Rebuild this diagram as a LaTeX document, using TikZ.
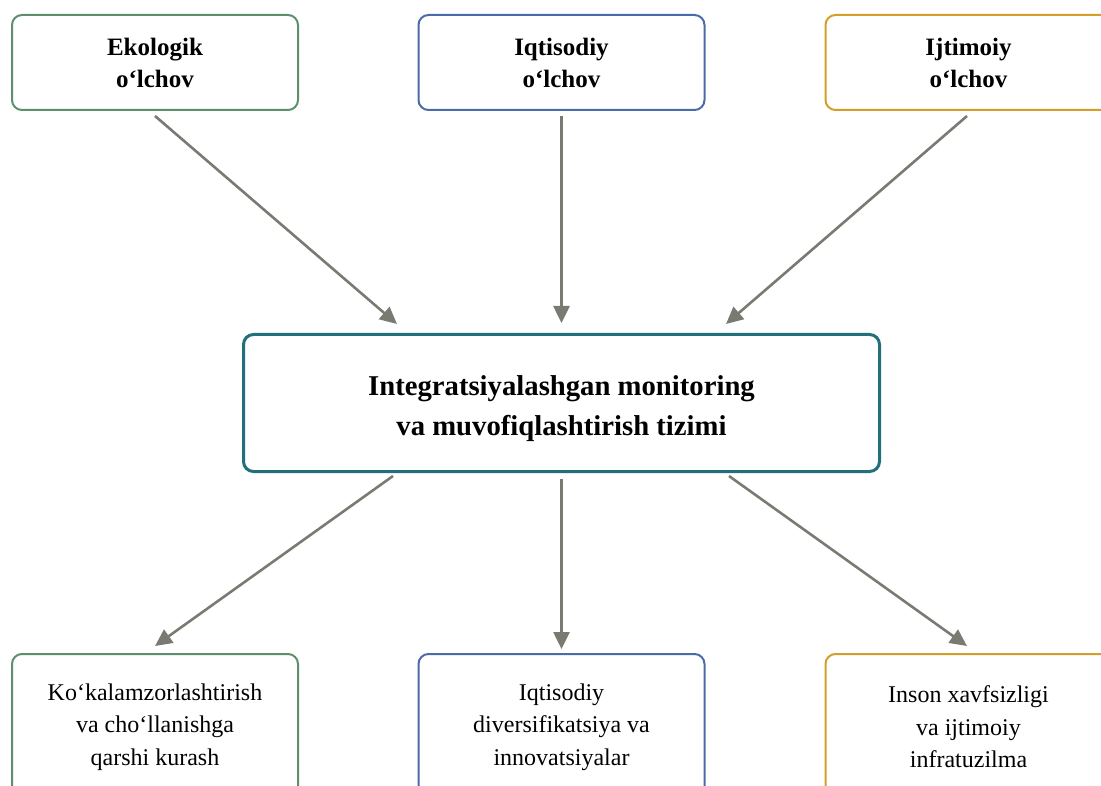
\documentclass[tikz,border=0pt]{standalone}
\usepackage{fontspec}
\setmainfont{Liberation Serif}
\usetikzlibrary{arrows.meta,calc}
\definecolor{cgreen}{HTML}{5E8F6C}
\definecolor{cblue}{HTML}{4A6BA8}
\definecolor{cgold}{HTML}{D49E2A}
\definecolor{cteal}{HTML}{23707A}
\definecolor{cgray}{HTML}{7A7A72}
\tikzset{
  topbox/.style={draw, line width=2pt, rounded corners=10pt, fill=white, minimum width=286pt, minimum height=95pt, align=center, inner sep=0pt, font=\fontsize{25}{32}\selectfont\bfseries},
  botbox/.style={draw, line width=2pt, rounded corners=10pt, fill=white, minimum width=286pt, minimum height=146pt, align=center, inner sep=0pt, font=\fontsize{24}{32.5}\selectfont},
  mainbox/.style={draw=cteal, line width=3pt, rounded corners=10pt, fill=white, minimum width=636pt, minimum height=137pt, inner sep=0pt},
  maintext/.style={align=center, inner sep=0pt, font=\fontsize{28.7}{40}\selectfont\bfseries},
  conn/.style={draw=cgray, line width=2.6pt, -{Triangle[length=17pt,width=16pt]}}
}
\begin{document}
\begin{tikzpicture}[x=1pt,y=-1pt]
\useasboundingbox (0,0) rectangle (1101,786);
\clip (0,0) rectangle (1101,786);
\node[topbox, draw=cgreen] (e1) at (155,62.5) {Ekologik\\o‘lchov};
\node[topbox, draw=cblue] (e2) at (561.5,62.5) {Iqtisodiy\\o‘lchov};
\node[topbox, draw=cgold] (e3) at (968.5,62.5) {Ijtimoiy\\o‘lchov};
\node[mainbox] (c) at (561.5,403) {};
\node[maintext] (ct) at ($(c.center)+(0,6)$) {Integratsiyalashgan monitoring\\va muvofiqlashtirish tizimi};
\node[botbox, draw=cgreen] (b1) at (155,727) {Ko‘kalamzorlashtirish\\va cho‘llanishga\\qarshi kurash};
\node[botbox, draw=cblue] (b2) at (561.5,727) {Iqtisodiy\\diversifikatsiya va\\innovatsiyalar};
\node[botbox, draw=cgold] (b3) at (968.5,727) {Inson xavfsizligi\\va ijtimoiy\\infratuzilma};
\coordinate (t1) at ($(c.north)+(-164.5,-9)$);
\coordinate (t2) at ($(c.north)+(0,-10)$);
\coordinate (t3) at ($(c.north)+(164.5,-9)$);
\coordinate (s1) at ($(c.south)+(-168.5,3)$);
\coordinate (s2) at ($(c.south)+(0,6)$);
\coordinate (s3) at ($(c.south)+(167.5,3)$);
\draw[conn] ($(e1.south)+(0,5)$) -- (t1);
\draw[conn] ($(e2.south)+(0,5)$) -- (t2);
\draw[conn] ($(e3.south)+(-1.5,5)$) -- (t3);
\draw[conn] (s1) -- ($(b1.north)+(0,-7)$);
\draw[conn] (s2) -- ($(b2.north)+(0,-4)$);
\draw[conn] (s3) -- ($(b3.north)+(-1.5,-7)$);
\end{tikzpicture}
\end{document}
